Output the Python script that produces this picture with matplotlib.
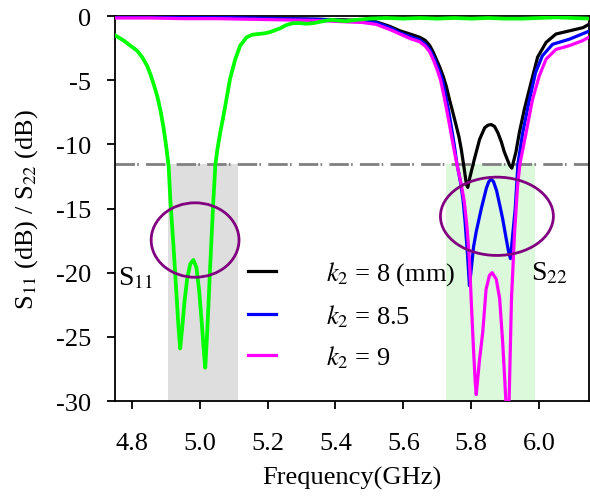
import numpy as np
import matplotlib
matplotlib.use("Agg")
import matplotlib.pyplot as plt
from matplotlib.patches import Ellipse, Rectangle

plt.rcParams.update({
    "font.family": ["Liberation Serif", "DejaVu Serif"],
    "mathtext.fontset": "stix",
    "axes.unicode_minus": False,
})

# ── data ──────────────────────────────────────────────────
# S11 (green, same for all k2)
s11_f = [4.750, 4.775, 4.795, 4.815, 4.830, 4.845, 4.855, 4.865, 4.875, 4.885,
         4.893, 4.900, 4.908, 4.913, 4.922, 4.930, 4.937, 4.942, 4.948, 4.955,
         4.963, 4.972, 4.981, 4.990, 4.998, 5.006, 5.012, 5.016, 5.022, 5.030,
         5.040, 5.046, 5.053, 5.060, 5.068, 5.075, 5.089, 5.104, 5.119, 5.138,
         5.155, 5.170, 5.190, 5.207, 5.222, 5.237, 5.255, 5.275, 5.295, 5.315,
         5.335, 5.354, 5.372, 5.390, 5.410, 5.430, 5.460, 5.500, 5.550, 5.600,
         5.650, 5.700, 5.750, 5.800, 5.850, 5.900, 5.950, 6.000, 6.050, 6.100,
         6.150]
s11_db = [-1.5, -1.9, -2.3, -2.7, -3.2, -3.9, -4.6, -5.4, -6.3, -7.5,
          -8.7, -10.0, -11.7, -14.3, -17.8, -21.2, -24.2, -25.9, -24.3, -22.2,
          -20.4, -19.3, -19.0, -19.6, -21.4, -24.0, -26.2, -27.4, -24.5, -19.8,
          -14.3, -11.5, -10.2, -9.1, -8.0, -7.0, -4.9, -3.4, -2.3, -1.65,
          -1.45, -1.4, -1.35, -1.25, -1.1, -0.95, -0.7, -0.55, -0.55, -0.6,
          -0.55, -0.45, -0.35, -0.3, -0.35, -0.4, -0.3, -0.2, -0.15, -0.2,
          -0.15, -0.2, -0.15, -0.2, -0.15, -0.2, -0.2, -0.15, -0.1, -0.15,
          -0.2]

# S22, k2 = 8 mm (black)
k8_f = [4.750, 4.850, 4.950, 5.050, 5.150, 5.250, 5.350, 5.430, 5.480, 5.520,
        5.560, 5.590, 5.620, 5.648, 5.665, 5.678, 5.688, 5.697, 5.707, 5.717,
        5.727, 5.736, 5.746, 5.756, 5.764, 5.771, 5.779, 5.786, 5.790, 5.796,
        5.810, 5.825, 5.840, 5.850, 5.859, 5.869, 5.879, 5.889, 5.898, 5.913,
        5.920, 5.932, 5.942, 5.957, 5.977, 5.996, 6.021, 6.050, 6.090, 6.130,
        6.150]
k8_db = [-0.05, -0.05, -0.1, -0.1, -0.15, -0.2, -0.25, -0.3, -0.35, -0.45,
         -0.8, -1.15, -1.4, -1.65, -1.9, -2.3, -2.8, -3.35, -3.95, -4.65,
         -5.5, -6.5, -7.5, -8.55, -9.4, -10.4, -11.8, -13.1, -13.35, -12.6,
         -11.1, -9.6, -8.7, -8.5, -8.45, -8.6, -9.1, -9.8, -10.6, -11.6,
         -11.85, -10.6, -9.1, -7.25, -5.15, -3.2, -2.05, -1.4, -1.15, -0.9,
         -0.6]

# S22, k2 = 8.5 (blue)
k85_f = [4.750, 4.850, 4.950, 5.050, 5.150, 5.250, 5.350, 5.430, 5.480, 5.520,
         5.560, 5.590, 5.620, 5.648, 5.665, 5.678, 5.692, 5.702, 5.712, 5.720,
         5.727, 5.735, 5.742, 5.750, 5.758, 5.769, 5.776, 5.782, 5.789, 5.795,
         5.800, 5.807, 5.815, 5.830, 5.845, 5.852, 5.859, 5.866, 5.875, 5.885,
         5.893, 5.903, 5.910, 5.916, 5.923, 5.930, 5.938, 5.952, 5.972, 5.990,
         6.010, 6.040, 6.090, 6.150]
k85_db = [-0.05, -0.05, -0.1, -0.1, -0.15, -0.2, -0.25, -0.35, -0.4, -0.5,
          -0.9, -1.3, -1.6, -1.85, -2.2, -2.6, -3.35, -4.0, -4.7, -5.5,
          -6.5, -7.6, -8.7, -10.0, -11.5, -13.0, -14.3, -16.0, -18.5, -21.0,
          -19.8, -18.0, -16.8, -15.0, -13.4, -12.9, -12.7, -12.9, -13.6, -14.8,
          -15.8, -17.3, -18.3, -18.9, -16.9, -15.0, -11.5, -9.1, -6.5, -4.4,
          -3.1, -2.2, -1.8, -1.15]

# S22, k2 = 9 (magenta)
k9_f = [4.750, 4.850, 4.950, 5.050, 5.150, 5.250, 5.350, 5.430, 5.480, 5.520,
        5.560, 5.590, 5.620, 5.648, 5.665, 5.678, 5.690, 5.700, 5.710, 5.722,
        5.735, 5.748, 5.760, 5.770, 5.780, 5.788, 5.795, 5.800, 5.807, 5.812,
        5.815, 5.825, 5.834, 5.844, 5.854, 5.862, 5.874, 5.884, 5.893, 5.900,
        5.904, 5.912, 5.919, 5.928, 5.937, 5.944, 5.962, 5.981, 6.001, 6.021,
        6.050, 6.090, 6.130, 6.150]
k9_db = [-0.15, -0.15, -0.2, -0.2, -0.25, -0.3, -0.35, -0.45, -0.5, -0.65,
         -1.05, -1.4, -1.75, -2.0, -2.35, -2.8, -3.5, -4.2, -5.0, -6.5,
         -8.3, -10.2, -11.8, -13.0, -14.5, -16.5, -19.0, -22.0, -26.0, -28.5,
         -29.5, -26.7, -24.7, -21.3, -20.2, -20.0, -20.5, -22.0, -25.4, -28.8,
         -30.8, -29.9, -22.0, -16.9, -13.2, -11.5, -9.1, -6.5, -4.65, -3.35,
         -2.6, -2.3, -1.9, -1.6]

legend_labels = [r"$k_{\mathit{2}}$ = 8 (mm)", r"$k_{\mathit{2}}$ = 8.5", r"$k_{\mathit{2}}$ = 9"]
k_colors = ["#000000", "#0000ff", "#ff00ff"]
S11_COLOR = "#00ff00"

threshold = -11.5
band_s11 = (4.905, 5.112)
band_s22 = (5.727, 5.987)
x_ticks = [4.8, 5.0, 5.2, 5.4, 5.6, 5.8, 6.0]
y_ticks = [0, -5, -10, -15, -20, -25, -30]

# ── figure ────────────────────────────────────────────────
fig = plt.figure(figsize=(5.9, 5.02), dpi=100)
ax = fig.add_axes([0.195, 0.199, 0.803, 0.767])
ax.set_xlim(4.75, 6.147)
ax.set_ylim(-30, 0)

# shaded bands below the threshold
ax.add_patch(Rectangle((band_s11[0], -30), band_s11[1] - band_s11[0], threshold + 30,
                       facecolor="#dedede", edgecolor="none", zorder=0))
ax.add_patch(Rectangle((band_s22[0], -30), band_s22[1] - band_s22[0], threshold + 30,
                       facecolor="#dcf9dc", edgecolor="none", zorder=0))

lines = []
for f, db, c in zip([k8_f, k85_f, k9_f], [k8_db, k85_db, k9_db], k_colors):
    ln, = ax.plot(f, db, color=c, lw=2.3, zorder=3, solid_joinstyle="round")
    lines.append(ln)
ax.plot(s11_f, s11_db, color=S11_COLOR, lw=2.7, zorder=4, solid_joinstyle="round")

ax.axhline(threshold, color="#808080", lw=2, linestyle=(0, (7, 0.8, 0.6, 2.6)), zorder=2)

# ellipses
ax.add_patch(Ellipse((4.986, -17.45), 0.259, 5.8, fill=False,
                     edgecolor="#800080", lw=2, zorder=5))
ax.add_patch(Ellipse((5.876, -15.6), 0.333, 6.1, fill=False,
                     edgecolor="#800080", lw=2, zorder=5))

ax.text(4.758, -20.9, r"S$_{11}$", fontsize=20, ha="left", va="baseline")
ax.text(5.977, -20.5, r"S$_{22}$", fontsize=20, ha="left", va="baseline")

leg = ax.legend(lines, legend_labels, loc="center left", bbox_to_anchor=(0.281, 0.224),
                frameon=False, fontsize=19, handlelength=1.05, handletextpad=1.9,
                labelspacing=0.56, borderaxespad=0, borderpad=0)

ax.set_xticks(x_ticks)
ax.set_xticklabels([f"{v:.1f}" for v in x_ticks])
ax.set_yticks(y_ticks)
ax.set_yticklabels([str(v) for v in y_ticks])
ax.tick_params(direction="out", length=6, width=1.3, labelsize=19)
ax.tick_params(axis="x", pad=16)
ax.tick_params(axis="y", pad=11)
for sp in ax.spines.values():
    sp.set_linewidth(1.3)

ax.set_xlabel("Frequency(GHz)", fontsize=19, labelpad=9)
ax.set_ylabel(r"S$_{11}$ (dB) / S$_{22}$ (dB)", fontsize=19, labelpad=12)

fig.savefig("out.png", dpi=100, facecolor="white")
